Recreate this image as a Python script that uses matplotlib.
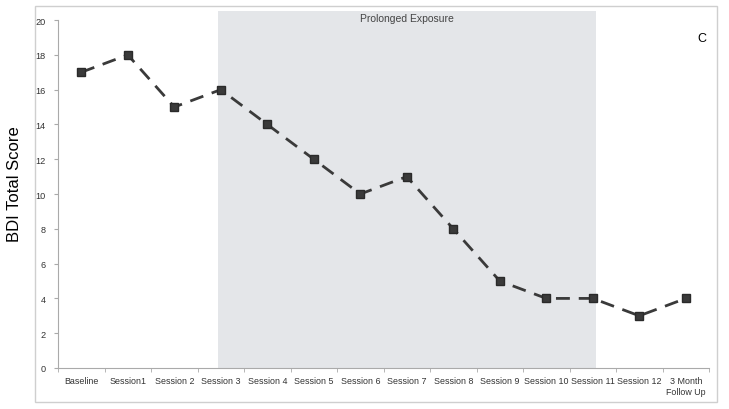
import numpy as np
import matplotlib.pyplot as plt
from matplotlib.patches import Rectangle

plt.rcParams['font.family'] = ['Liberation Sans', 'DejaVu Sans']

sessions = ['Baseline', 'Session1', 'Session 2', 'Session 3', 'Session 4', 'Session 5',
            'Session 6', 'Session 7', 'Session 8', 'Session 9', 'Session 10', 'Session 11',
            'Session 12', '3 Month\nFollow Up']
bdi = [17, 18, 15, 16, 14, 12, 10, 11, 8, 5, 4, 4, 3, 4]
pe_start, pe_end = 3, 11  # prolonged exposure phase (category index)

fig = plt.figure(figsize=(7.29, 4.10), dpi=100)
# outer frame
fig.patches.append(Rectangle((0.048, 0.017), 0.9355, 0.966, transform=fig.transFigure,
                             fill=False, edgecolor='#cfcfcf', linewidth=1.0))
ax = fig.add_axes([0.0796, 0.1, 0.893, 0.8707])

x = np.arange(len(sessions))
ax.axvspan(pe_start - 0.05, pe_end + 0.08, color='#e4e6e9', zorder=0, linewidth=0)
ax.text((pe_start + pe_end) / 2, 20.1, 'Prolonged Exposure', ha='center', va='center',
        fontsize=7.5, color='#444444')

ax.plot(x, bdi, linestyle=(0, (5, 3.2)), color='#3a3a3a', linewidth=2.0,
        marker='s', markersize=5.8, markerfacecolor='#3a3a3a', markeredgecolor='#2a2a2a',
        zorder=3)

ax.set_xlim(-0.5, len(sessions) - 0.5)
ax.set_ylim(0, 20.52)
ax.set_yticks(np.arange(0, 21, 2))
ax.set_xticks(x)
ax.set_xticklabels(sessions, fontsize=6.4, color='#333333')
ax.set_xticks(np.arange(-0.5, len(sessions), 1), minor=True)
ax.tick_params(axis='x', which='major', length=0, pad=6)
ax.tick_params(axis='x', which='minor', length=3, color='#aaaaaa')
ax.tick_params(axis='y', labelsize=6.6, labelcolor='#333333', length=3, color='#aaaaaa', pad=6)

for s in ['top', 'right']:
    ax.spines[s].set_visible(False)
ax.spines['left'].set_bounds(0, 20)
ax.spines['left'].set_color('#aaaaaa')
ax.spines['bottom'].set_color('#aaaaaa')

fig.text(0.02, 0.55, 'BDI Total Score', rotation=90, ha='center', va='center', fontsize=12)
fig.text(0.963, 0.905, 'C', ha='center', va='center', fontsize=9)

fig.savefig('out.png', dpi=100)
